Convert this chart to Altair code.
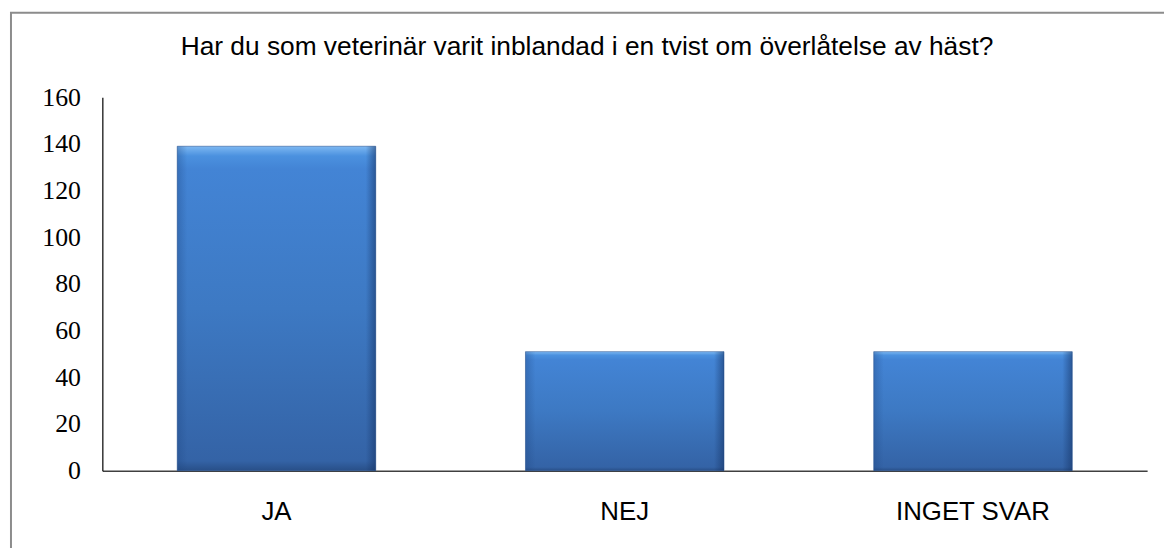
import altair as alt
import pandas as pd

categories = ["JA", "NEJ", "INGET SVAR"]
values = [139, 51, 51]
y_ticks = [0, 20, 40, 60, 80, 100, 120, 140, 160]
title_text = "Har du som veterinär varit inblandad i en tvist om överlåtelse av häst?"

df = pd.DataFrame({"svar": categories, "antal": values})

x_enc = alt.X("svar:N", sort=categories, title=None,
              scale=alt.Scale(paddingInner=0.43, paddingOuter=0.215),
              axis=alt.Axis(labelAngle=0, labelFont="Liberation Sans", labelFontSize=26,
                            labelColor="#000000", labelPadding=28, ticks=False,
                            domainColor="#404040", domainWidth=1.5))
y_enc = alt.Y("antal:Q", title=None,
              scale=alt.Scale(domain=[0, 160], nice=False),
              axis=alt.Axis(values=y_ticks, grid=False, ticks=False,
                            labelFont="Liberation Serif", labelFontSize=26,
                            labelColor="#000000", labelPadding=22,
                            domainColor="#000000", domainWidth=1.2))

base_grad = alt.LinearGradient(
    gradient="linear", x1=0, x2=0, y1=0, y2=1,
    stops=[alt.GradientStop(color="#7DB8F2", offset=0),
           alt.GradientStop(color="#4B91DF", offset=0.03),
           alt.GradientStop(color="#4384D5", offset=0.07),
           alt.GradientStop(color="#3D79C3", offset=0.5),
           alt.GradientStop(color="#3463A6", offset=0.97),
           alt.GradientStop(color="#284F88", offset=1)])
side_grad = alt.LinearGradient(
    gradient="linear", x1=0, x2=1, y1=0, y2=0,
    stops=[alt.GradientStop(color="rgba(30,70,130,0.35)", offset=0),
           alt.GradientStop(color="rgba(30,70,130,0)", offset=0.05),
           alt.GradientStop(color="rgba(20,50,100,0)", offset=0.95),
           alt.GradientStop(color="rgba(20,50,100,0.55)", offset=1)])

bars = alt.Chart(df).mark_bar(color=base_grad, stroke="#2C5590",
                              strokeWidth=0.8, strokeOpacity=0.7).encode(x=x_enc, y=y_enc)
sides = alt.Chart(df).mark_bar(color=side_grad).encode(x=x_enc, y=y_enc)

frame = alt.Chart(pd.DataFrame({"f": [0]})).mark_rect(
    fill="transparent", stroke="#8C8C8C", strokeWidth=2).encode(
    x=alt.value(-92), x2=alt.value(1090), y=alt.value(-85), y2=alt.value(480))

chart = alt.layer(frame, bars, sides).properties(
    width=1052, height=376,
    background="white",
    title=alt.TitleParams(title_text, font="Liberation Sans", fontSize=26.5,
                          fontWeight="normal", color="#000000",
                          anchor="middle", frame="group", dx=-38, offset=-70,
                          baseline="alphabetic"),
    padding={"left": 95, "top": 88, "right": 17, "bottom": 76},
    autosize="none",
).configure_view(strokeWidth=0, stroke="transparent")

chart.save("out.html", embed_options={"renderer": "svg", "actions": False})
